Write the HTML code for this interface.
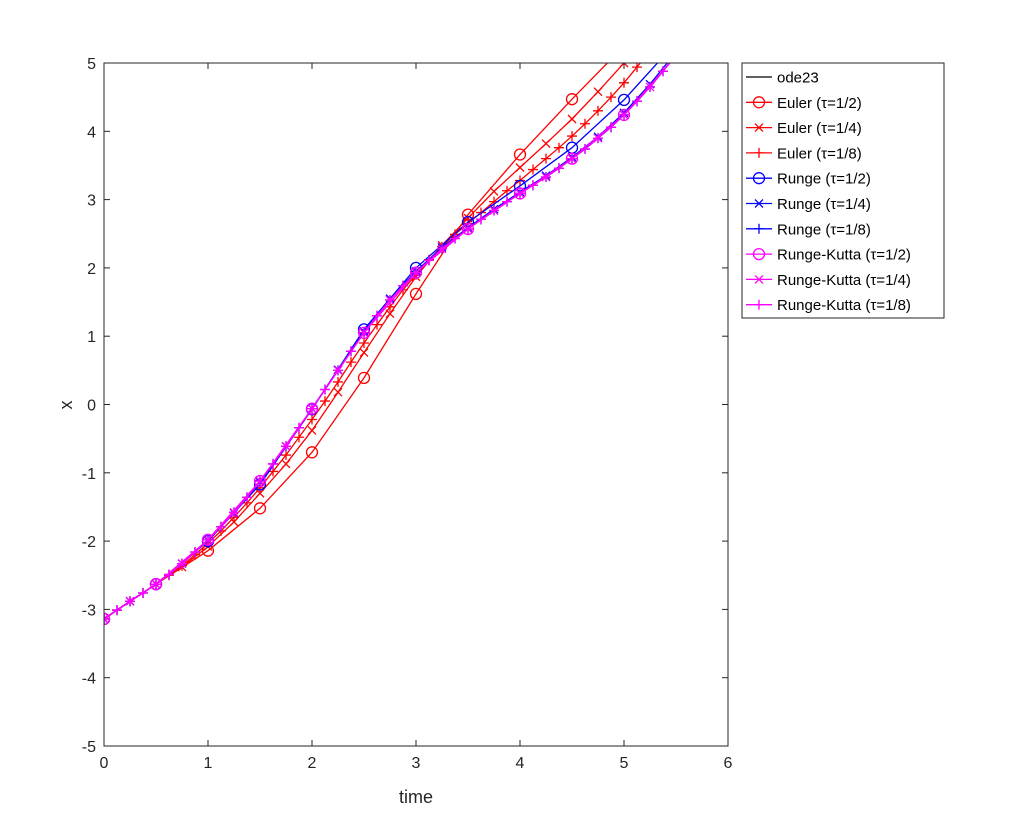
<!DOCTYPE html>
<html><head><meta charset="utf-8"><style>
body{margin:0;background:#fff;}
svg{display:block;font-family:"Liberation Sans","DejaVu Sans",sans-serif;}
</style></head><body>
<svg id="chart" width="1020" height="840" viewBox="0 0 1020 840" xmlns="http://www.w3.org/2000/svg">
<rect x="0" y="0" width="1020" height="840" fill="#fff"/>
<rect x="104" y="63" width="624" height="683" fill="#fff"/>
<g id="series"></g>
<rect x="104" y="63" width="624" height="683" fill="none" stroke="#262626" stroke-width="1"/>
<g id="axes"></g>
<text x="416" y="803" font-size="18" text-anchor="middle" fill="#262626">time</text>
<text transform="translate(72,405) rotate(-90)" font-size="18" text-anchor="middle" fill="#262626">x</text>
<g id="legend"></g>
</svg>
<script>
const xTicks=[0,1,2,3,4,5,6];
const yTicks=[5,4,3,2,1,0,-1,-2,-3,-4,-5];
const refT=[0,0.125,0.25,0.375,0.5,0.625,0.75,0.875,1,1.125,1.25,1.375,1.5,1.625,1.75,1.875,2,2.125,2.25,2.375,2.5,2.625,2.75,2.875,3,3.125,3.25,3.375,3.5,3.625,3.75,3.875,4,4.125,4.25,4.375,4.5,4.625,4.75,4.875,5,5.125,5.25,5.375,5.5];
const refX=[-3.14,-3.01,-2.88,-2.76,-2.63,-2.49,-2.33,-2.16,-1.98,-1.79,-1.58,-1.36,-1.12,-0.87,-0.61,-0.34,-0.06,0.22,0.50,0.78,1.05,1.30,1.53,1.74,1.93,2.11,2.28,2.43,2.57,2.71,2.84,2.97,3.09,3.21,3.33,3.46,3.60,3.74,3.90,4.06,4.24,4.44,4.65,4.88,5.12];
const eul2X=[-3.14,-2.63,-2.14,-1.52,-0.70,0.39,1.62,2.78,3.66,4.47,5.25];
const eul4X=[-3.14,-2.88,-2.63,-2.38,-2.08,-1.72,-1.30,-0.87,-0.38,0.18,0.76,1.33,1.87,2.33,2.73,3.12,3.47,3.82,4.18,4.58,5.0,5.45];
const eul8X=[-3.14,-3.01,-2.88,-2.76,-2.63,-2.50,-2.36,-2.20,-2.03,-1.85,-1.65,-1.44,-1.22,-0.98,-0.74,-0.48,-0.22,0.05,0.33,0.62,0.90,1.17,1.43,1.68,1.90,2.12,2.31,2.49,2.65,2.81,2.97,3.13,3.28,3.44,3.60,3.76,3.93,4.11,4.30,4.50,4.71,4.94,5.18];
const run2X=[-3.14,-2.63,-2.00,-1.17,-0.07,1.10,2.00,2.67,3.20,3.76,4.46,5.30];
const run4X=[-3.14,-2.88,-2.63,-2.33,-1.99,-1.59,-1.13,-0.61,-0.06,0.51,1.07,1.55,1.95,2.30,2.59,2.86,3.11,3.35,3.62,3.92,4.27,4.69,5.16];
const run8X=[-3.14,-3.01,-2.88,-2.76,-2.63,-2.49,-2.33,-2.16,-1.98,-1.79,-1.58,-1.36,-1.12,-0.87,-0.61,-0.34,-0.06,0.22,0.50,0.78,1.05,1.30,1.53,1.74,1.93,2.11,2.28,2.43,2.57,2.71,2.84,2.97,3.09,3.21,3.33,3.46,3.60,3.74,3.90,4.06,4.24,4.44,4.65,4.88,5.12];
const rk2X=[-3.14,-2.63,-1.98,-1.12,-0.06,1.05,1.93,2.57,3.09,3.60,4.24,5.10];
const rk4X=[-3.14,-2.88,-2.63,-2.33,-1.98,-1.58,-1.12,-0.61,-0.06,0.50,1.05,1.53,1.93,2.28,2.57,2.84,3.09,3.33,3.60,3.90,4.24,4.65,5.12];
const rk8X=refX.slice();
const labels=["ode23","Euler (\u03c4=1/2)","Euler (\u03c4=1/4)","Euler (\u03c4=1/8)","Runge (\u03c4=1/2)","Runge (\u03c4=1/4)","Runge (\u03c4=1/8)","Runge-Kutta (\u03c4=1/2)","Runge-Kutta (\u03c4=1/4)","Runge-Kutta (\u03c4=1/8)"];

const X0=104,X1=728,Y0=746,Y1=63;
const sx=t=>X0+(t-0)/(6-0)*(X1-X0);
const sy=v=>Y0-(v+5)/10*(Y0-Y1);
const NS="http://www.w3.org/2000/svg";
function mk(tag,attrs,parent){const e=document.createElementNS(NS,tag);for(const k in attrs)e.setAttribute(k,attrs[k]);parent.appendChild(e);return e;}
const axes=document.getElementById('axes');
xTicks.forEach(t=>{
  const l=mk('line',{x1:sx(t),x2:sx(t),y1:Y0,y2:Y0-6,stroke:'#262626'},axes);
  
  
  const l2=mk('line',{x1:sx(t),x2:sx(t),y1:Y1,y2:Y1+6,stroke:'#262626'},axes);
  
  
  const tx=mk('text',{x:sx(t),y:Y0+22,'font-size':16,'text-anchor':'middle',fill:'#262626'},axes);tx.textContent=t;
  
  
});
yTicks.forEach(v=>{
  const l=mk('line',{x1:X0,x2:X0+6,y1:sy(v),y2:sy(v),stroke:'#262626'},axes);
  
  
  const l2=mk('line',{x1:X1,x2:X1-6,y1:sy(v),y2:sy(v),stroke:'#262626'},axes);
  
  
  const tx=mk('text',{x:X0-8,y:sy(v)+6,'font-size':16,'text-anchor':'end',fill:'#262626'},axes);tx.textContent=v;
  
  
});
const series=document.getElementById('series');
function marker(g,kind,x,y,c){
  if(kind==='o'){mk('circle',{cx:x,cy:y,r:5.5,fill:'none',stroke:c,'stroke-width':1.3},g);}
  else if(kind==='x'){mk('path',{d:`M${x-4},${y-4}L${x+4},${y+4}M${x-4},${y+4}L${x+4},${y-4}`,stroke:c,'stroke-width':1.3},g);}
  else if(kind==='+'){mk('path',{d:`M${x-5},${y}L${x+5},${y}M${x},${y-5}L${x},${y+5}`,stroke:c,'stroke-width':1.3},g);}
}
function draw(name,vals,h,color,kind,useT){
  const g=mk('g',{'clip-path':'url(#clip)'},series);
  
  
  const pts=vals.map((v,i)=>[sx(useT?refT[i]:i*h),sy(v)]);
  mk('polyline',{points:pts.map(p=>p.join(',')).join(' '),fill:'none',stroke:color,'stroke-width':1.3},g);
  if(kind)pts.forEach(p=>marker(g,kind,p[0],p[1],color));
}
const defs=mk('defs',{},document.getElementById('chart'));
const cp=mk('clipPath',{id:'clip'},defs);mk('rect',{x:X0,y:Y1,width:X1-X0,height:Y0-Y1},cp);
draw('ode23-line',refX,0,'#000','',true);
draw('euler-half',eul2X,0.5,'#ff0000','o');
draw('euler-quarter',eul4X,0.25,'#ff0000','x');
draw('euler-eighth',eul8X,0.125,'#ff0000','+');
draw('runge-half',run2X,0.5,'#0000ff','o');
draw('runge-quarter',run4X,0.25,'#0000ff','x');
draw('runge-eighth',run8X,0.125,'#0000ff','+');
draw('rk-half',rk2X,0.5,'#ff00ff','o');
draw('rk-quarter',rk4X,0.25,'#ff00ff','x');
draw('rk-eighth',rk8X,0.125,'#ff00ff','+');
const lg=document.getElementById('legend');
mk('rect',{x:742,y:63,width:202,height:255,fill:'#fff',stroke:'#262626','stroke-width':1},lg);
const lcol=['#000','#ff0000','#ff0000','#ff0000','#0000ff','#0000ff','#0000ff','#ff00ff','#ff00ff','#ff00ff'];
const lmk=['','o','x','+','o','x','+','o','x','+'];
labels.forEach((s,i)=>{
  const y=77+i*25.3;
  const g=mk('g',{},lg);
  
  
  mk('line',{x1:746,x2:772,y1:y,y2:y,stroke:lcol[i],'stroke-width':1.3},g);
  if(lmk[i])marker(g,lmk[i],759,y,lcol[i]);
  const t=mk('text',{x:777,y:y+5.5,'font-size':15,fill:'#000'},g);t.textContent=s;
});
</script>
</body></html>
